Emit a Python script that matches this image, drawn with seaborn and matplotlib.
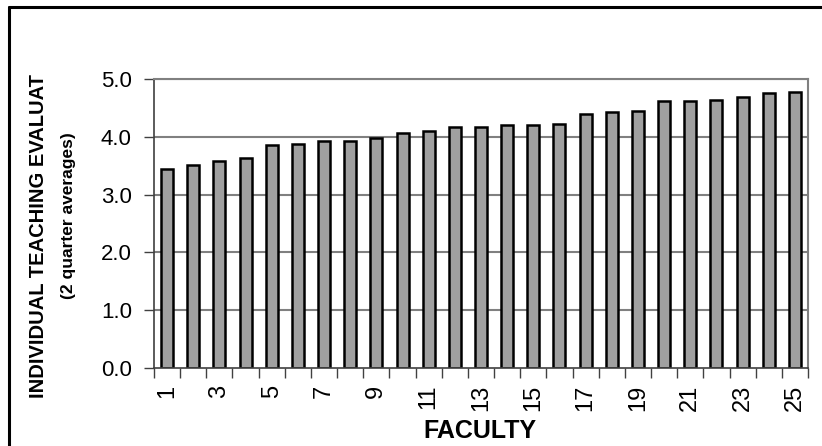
import matplotlib
matplotlib.use('Agg')
import matplotlib.pyplot as plt
from matplotlib.lines import Line2D
import seaborn as sns
import pandas as pd

# datos
facultad = [str(i) for i in range(1, 26)]
promedios = [3.44, 3.52, 3.58, 3.63, 3.85, 3.88, 3.93, 3.93, 3.98, 4.07,
             4.10, 4.17, 4.17, 4.21, 4.21, 4.23, 4.40, 4.43, 4.45, 4.62,
             4.62, 4.64, 4.69, 4.75, 4.78]
etiquetas_x = [str(i) for i in range(1, 26, 2)]
ticks_y = [0.0, 1.0, 2.0, 3.0, 4.0, 5.0]

df = pd.DataFrame({'faculty': facultad, 'score': promedios})

sns.set_style('white')
plt.rcParams['font.family'] = ['Liberation Sans', 'DejaVu Sans']
plt.rcParams['text.color'] = 'black'
plt.rcParams['xtick.color'] = 'black'
plt.rcParams['ytick.color'] = 'black'

fig = plt.figure(figsize=(8.22, 4.46), dpi=100)
ax = fig.add_axes([154 / 822, 1 - 368 / 446, 654 / 822, 289 / 446])

ax.set_axisbelow(True)
for v in ticks_y[1:]:
    ax.axhline(v, color='#808080', lw=1.5, zorder=0)

sns.barplot(data=df, x='faculty', y='score', color='#A0A0A0', saturation=1,
            width=0.46, edgecolor='black', linewidth=1.8, ax=ax, zorder=2)

ax.set_xlim(-0.5, 24.5)
ax.set_ylim(0, 5)
ax.set_yticks(ticks_y)
ax.set_yticklabels([f'{v:.1f}' for v in ticks_y], fontsize=16)
ax.tick_params(axis='y', length=7, width=1, color='#404040', pad=9, left=True)

# ticks entre categorias, etiquetas en impares
ax.set_xticks([i - 0.5 for i in range(26)], minor=True)
ax.set_xticks(list(range(0, 25, 2)))
ax.set_xticklabels(etiquetas_x, rotation=90, fontsize=17)
ax.tick_params(axis='x', which='major', length=0, pad=12)
ax.tick_params(axis='x', which='minor', length=7, width=1, color='#404040', bottom=True)

ax.set_xlabel('')
ax.set_ylabel('')
for s in ['top', 'right']:
    ax.spines[s].set_color('#808080')
    ax.spines[s].set_linewidth(1.5)
for s in ['left', 'bottom']:
    ax.spines[s].set_color('#404040')
    ax.spines[s].set_linewidth(1.2)

fig.text(480 / 822, 1 - 431 / 446, 'FACULTY', fontsize=18, fontweight='bold',
         ha='center', va='center')
fig.text(38 / 822, 1 - 236 / 446, 'INDIVIDUAL TEACHING EVALUAT', fontsize=14.5,
         fontweight='bold', rotation=90, ha='center', va='center')
fig.text(68 / 822, 1 - 216 / 446, '(2 quarter averages)', fontsize=12.5,
         fontweight='bold', rotation=90, ha='center', va='center')

# marco exterior (solo lados izquierdo y superior visibles)
fig.add_artist(Line2D([9 / 822, 9 / 822], [-0.05, 1 - 7 / 446], transform=fig.transFigure,
                      color='black', lw=2.2))
fig.add_artist(Line2D([9 / 822, 1.05], [1 - 7 / 446, 1 - 7 / 446], transform=fig.transFigure,
                      color='black', lw=2.2))

fig.savefig('out.png', dpi=100)
